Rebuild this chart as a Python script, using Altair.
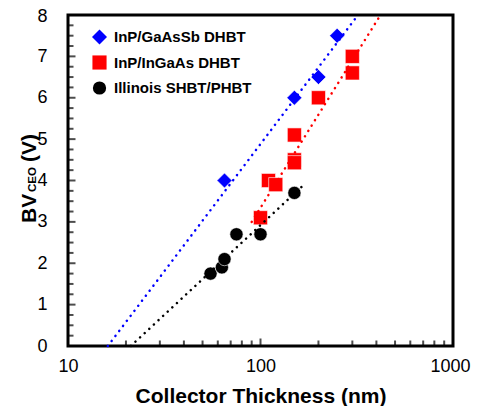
import altair as alt
import pandas as pd

# ---------------- data ----------------
series_names = ["InP/GaAsSb DHBT", "InP/InGaAs DHBT", "Illinois SHBT/PHBT"]
series_colors = ["#0000FF", "#FF0000", "#000000"]
series_shapes = ["diamond", "square", "circle"]
series_sizes = [225, 175, 140]

gaassb_x = [65, 150, 200, 250]
gaassb_y = [4.0, 6.0, 6.5, 7.5]
ingaas_x = [100, 110, 120, 150, 150, 150, 200, 300, 300]
ingaas_y = [3.1, 4.0, 3.9, 5.1, 4.5, 4.43, 6.0, 7.0, 6.6]
illinois_x = [55, 63, 65, 75, 100, 150]
illinois_y = [1.75, 1.9, 2.1, 2.7, 2.7, 3.7]

# dotted trend lines: end points
gaassb_trend_x = [16.1, 321]
gaassb_trend_y = [0.0, 8.0]
ingaas_trend_x = [90, 420]
ingaas_trend_y = [3.0, 8.0]
illinois_trend_x = [21.2, 170]
illinois_trend_y = [0.0, 3.92]

x_major = [10, 100, 1000]
x_minor = [20, 30, 40, 50, 60, 70, 80, 90, 200, 300, 400, 500, 600, 700, 800, 900]
y_major = [0, 1, 2, 3, 4, 5, 6, 7, 8]
y_minor = [0.25, 0.5, 0.75, 1.25, 1.5, 1.75, 2.25, 2.5, 2.75, 3.25, 3.5, 3.75,
           4.25, 4.5, 4.75, 5.25, 5.5, 5.75, 6.25, 6.5, 6.75, 7.25, 7.5, 7.75]

x_title = "Collector Thickness (nm)"
y_title_main = "BV"
y_title_sub = "CEO"
y_title_unit = "(V)"

# ---------------- tables ----------------
pts = pd.concat([
    pd.DataFrame({"x": gaassb_x, "y": gaassb_y, "series": series_names[0]}),
    pd.DataFrame({"x": ingaas_x, "y": ingaas_y, "series": series_names[1]}),
    pd.DataFrame({"x": illinois_x, "y": illinois_y, "series": series_names[2]}),
], ignore_index=True)

trend = pd.concat([
    pd.DataFrame({"x": gaassb_trend_x, "y": gaassb_trend_y, "series": series_names[0], "col": series_colors[0]}),
    pd.DataFrame({"x": ingaas_trend_x, "y": ingaas_trend_y, "series": series_names[1], "col": series_colors[1]}),
    pd.DataFrame({"x": illinois_trend_x, "y": illinois_trend_y, "series": series_names[2], "col": series_colors[2]}),
], ignore_index=True)

FONT = "Liberation Sans"
W, H = 385, 331

x_scale = alt.Scale(type="log", domain=[10, 1000])
y_scale = alt.Scale(domain=[0, 8], nice=False, zero=False)

x_axis = alt.Axis(values=x_major, format="d", title=x_title, ticks=False, domain=False, grid=False,
                  labelFont=FONT, labelFontSize=18, labelColor="black", labelPadding=11,
                  labelOffset={"condition": {"test": "datum.value === 1000", "value": -3}, "value": 0},
                  titleFont=FONT, titleFontSize=21, titleFontWeight="bold", titleColor="black",
                  titlePadding=10, labelFlush=False)
y_axis = alt.Axis(values=y_major, format="d", title="", ticks=False, domain=False, grid=False,
                  labelFont=FONT, labelFontSize=18, labelColor="black", labelPadding=21,
                  labelOffset={"condition": {"test": "datum.value === 8", "value": 1.5}, "value": 0})


def X(field="x"):
    return alt.X(f"{field}:Q", scale=x_scale, axis=x_axis)


def Y(field="y"):
    return alt.Y(f"{field}:Q", scale=y_scale, axis=y_axis)


points = alt.Chart(pts).mark_point(filled=True, opacity=1, stroke="white", strokeWidth=0.6).encode(
    x=X(), y=Y(),
    color=alt.Color("series:N", scale=alt.Scale(domain=series_names, range=series_colors),
                    legend=alt.Legend(title=None)),
    shape=alt.Shape("series:N", scale=alt.Scale(domain=series_names, range=series_shapes),
                    legend=alt.Legend(title=None)),
    size=alt.Size("series:N", scale=alt.Scale(domain=series_names, range=series_sizes), legend=None),
)

lines = alt.Chart(trend).mark_line(strokeWidth=2.5, strokeDash=[0.1, 6.2], strokeCap="round").encode(
    x=X(), y=Y(), detail="series:N",
    color=alt.Color("col:N", scale=None),
)

xmaj = alt.Chart(pd.DataFrame({"x": x_major})).mark_tick(
    orient="vertical", size=7.5, thickness=2, color="black").encode(x=X(), y=alt.value(H - 3.75))
xmin = alt.Chart(pd.DataFrame({"x": x_minor})).mark_tick(
    orient="vertical", size=5.5, thickness=2, color="black").encode(x=X(), y=alt.value(H - 2.75))
ymaj = alt.Chart(pd.DataFrame({"y": y_major})).mark_tick(
    orient="horizontal", size=7.5, thickness=2, color="black").encode(y=Y(), x=alt.value(3.75))
ymin = alt.Chart(pd.DataFrame({"y": y_minor})).mark_tick(
    orient="horizontal", size=5.5, thickness=2, color="black").encode(y=Y(), x=alt.value(2.75))

t_main = alt.Chart(pd.DataFrame({"t": [y_title_main]})).mark_text(
    angle=270, align="left", baseline="alphabetic", font=FONT, fontSize=21, fontWeight="bold", color="black"
).encode(text="t:N", x=alt.value(-31.7), y=alt.value(208))
t_sub = alt.Chart(pd.DataFrame({"t": [y_title_sub]})).mark_text(
    angle=270, align="left", baseline="alphabetic", font=FONT, fontSize=11.5, fontWeight="bold", color="black"
).encode(text="t:N", x=alt.value(-31.7), y=alt.value(177))
t_unit = alt.Chart(pd.DataFrame({"t": [y_title_unit]})).mark_text(
    angle=270, align="left", baseline="alphabetic", font=FONT, fontSize=21, fontWeight="bold", color="black"
).encode(text="t:N", x=alt.value(-31.7), y=alt.value(147))

chart = alt.layer(points, lines, xmaj, xmin, ymaj, ymin, t_main, t_sub, t_unit).properties(
    width=W, height=H,
    autosize=alt.AutoSizeParams(type="none"),
    padding={"left": 60, "top": 7, "right": 19, "bottom": 60},
).configure_view(
    stroke="black", strokeWidth=3
).configure_legend(
    orient="none", legendX=24, legendY=14.5, padding=0,
    labelFont=FONT, labelFontSize=15, labelFontWeight="bold", labelColor="black",
    symbolSize=56, symbolStrokeWidth=0, rowPadding=9.5, labelOffset=7,
)

chart.save("out.html", embed_options={"renderer": "svg", "actions": False})
